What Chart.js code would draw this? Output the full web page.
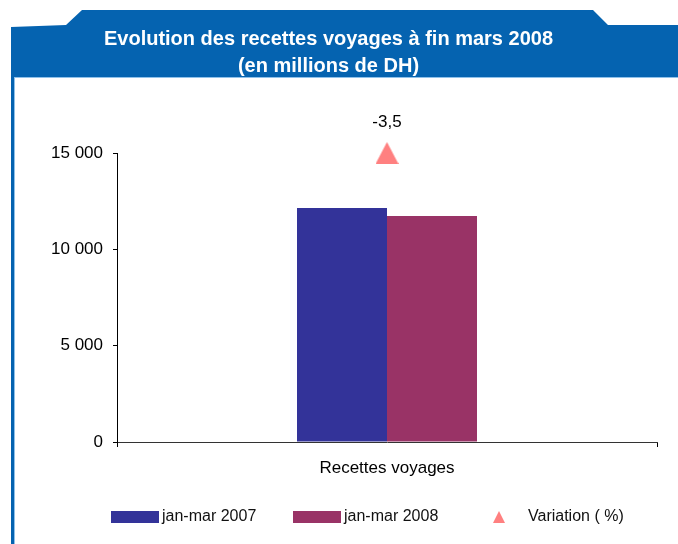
<!DOCTYPE html>
<html>
<head>
<meta charset="utf-8">
<script src="https://cdn.jsdelivr.net/npm/chart.js@4"></script>
<style>
  html, body { margin: 0; padding: 0; background: #fff; }
  canvas { display: block; }
</style>
</head>
<body>
<canvas id="recettesChart" width="678" height="544"></canvas>
<script>
// Data for the chart
const categories = ['Recettes voyages'];
const seriesNames = ['jan-mar 2007', 'jan-mar 2008', 'Variation ( %)'];
const recettes2007 = [12150];
const recettes2008 = [11725];
const variation = [-3.5];
const yTicks = [0, 5000, 10000, 15000];

const BLUE = '#333399';
const PLUM = '#993366';
const PINK = '#ff8080';
const HEADER = '#0563b0';
const FONT = "'Liberation Sans', Arial, sans-serif";

// triangle marker (a bit taller than an equilateral one, like the original)
function makeTriangle(w, h) {
    const c = document.createElement('canvas');
    c.width = w; c.height = h;
    const g = c.getContext('2d');
    g.fillStyle = PINK;
    g.beginPath();
    g.moveTo(w / 2, 0);
    g.lineTo(w, h);
    g.lineTo(0, h);
    g.closePath();
    g.fill();
    return c;
}
const bigTriangle = makeTriangle(23, 22);
const smallTriangle = makeTriangle(12, 12);

function fmt(v) {
    return String(v).replace(/\B(?=(\d{3})+(?!\d))/g, ' ');
}

// blue header band + left border
const framePlugin = {
    id: 'frame',
    beforeDraw(chart) {
        const ctx = chart.ctx;
        ctx.save();
        ctx.fillStyle = '#fff';
        ctx.fillRect(0, 0, chart.width, chart.height);
        ctx.fillStyle = HEADER;
        ctx.beginPath();
        ctx.moveTo(11, 77);
        ctx.lineTo(11, 27);
        ctx.lineTo(66, 25);
        ctx.lineTo(82, 10);
        ctx.lineTo(593, 10);
        ctx.lineTo(608, 25);
        ctx.lineTo(678, 25);
        ctx.lineTo(678, 77);
        ctx.closePath();
        ctx.fill();
        ctx.fillRect(11, 77, 3, chart.height - 77);
        ctx.fillStyle = '#8fc1ea';
        ctx.fillRect(14, 78, 1, chart.height - 78);
        ctx.fillRect(14, 77, chart.width - 14, 1);
        ctx.restore();
    }
};

// value label above the triangle + custom legend
const extrasPlugin = {
    id: 'extras',
    afterDatasetsDraw(chart) {
        const ctx = chart.ctx;
        ctx.save();
        const meta = chart.getDatasetMeta(2);
        ctx.fillStyle = '#000';
        ctx.font = '17px ' + FONT;
        ctx.textAlign = 'center';
        ctx.textBaseline = 'middle';
        meta.data.forEach((pt, i) => {
            const v = chart.data.datasets[2].data[i];
            ctx.fillText(String(v).replace('.', ','), pt.x, pt.y - 31);
        });
        ctx.restore();
    },
    afterDraw(chart) {
        const ctx = chart.ctx;
        const ds = chart.data.datasets;
        const y = 517;
        ctx.save();
        ctx.font = '16px ' + FONT;
        ctx.textBaseline = 'middle';
        ctx.textAlign = 'left';
        // bar items
        const boxX = [111, 293];
        [0, 1].forEach(i => {
            ctx.fillStyle = ds[i].backgroundColor;
            ctx.fillRect(boxX[i], y - 6, 48, 12);
            ctx.fillStyle = '#111';
            ctx.fillText(ds[i].label, boxX[i] + 51, y);
        });
        // triangle item
        ctx.drawImage(smallTriangle, 493, y - 6);
        ctx.fillStyle = '#111';
        ctx.fillText(ds[2].label, 528, y);
        ctx.restore();
    }
};

const ctx = document.getElementById('recettesChart').getContext('2d');
const recettesChart = new Chart(ctx, {
    type: 'bar',
    data: {
        labels: categories,
        datasets: [{
            label: seriesNames[0],
            data: recettes2007,
            backgroundColor: BLUE,
            yAxisID: 'y',
            order: 2
        }, {
            label: seriesNames[1],
            data: recettes2008,
            backgroundColor: PLUM,
            yAxisID: 'y',
            order: 2
        }, {
            type: 'line',
            label: seriesNames[2],
            data: variation,
            yAxisID: 'y2',
            showLine: false,
            pointStyle: bigTriangle,
            pointRadius: 12,
            backgroundColor: PINK,
            borderColor: PINK,
            clip: false,
            order: 0
        }]
    },
    options: {
        responsive: false,
        devicePixelRatio: 1,
        animation: false,
        categoryPercentage: 1 / 3,
        barPercentage: 1,
        layout: {
            padding: { top: 0, left: 0, right: 21, bottom: 0 }
        },
        plugins: {
            legend: { display: false },
            tooltip: { enabled: false },
            title: {
                display: true,
                text: ['Evolution des recettes voyages à fin mars 2008', '(en millions de DH)'],
                color: '#fff',
                font: { family: FONT, size: 20, weight: 'bold', lineHeight: 1.35 },
                padding: { top: 26, bottom: 73 }
            }
        },
        scales: {
            x: {
                grid: { drawOnChartArea: false, tickLength: 5, color: '#000' },
                border: { color: '#333' },
                ticks: {
                    color: '#000',
                    padding: 11,
                    font: { family: FONT, size: 17 }
                },
                afterFit(scale) { scale.height = 102; }
            },
            y: {
                min: 0,
                max: 15000,
                afterBuildTicks(scale) {
                    scale.ticks = yTicks.map(v => ({ value: v }));
                },
                grid: { drawOnChartArea: false, tickLength: 4, color: '#000' },
                border: { color: '#000' },
                ticks: {
                    color: '#000',
                    padding: 10,
                    font: { family: FONT, size: 17 },
                    callback: v => fmt(v)
                },
                afterFit(scale) { scale.width = 117; }
            },
            y2: {
                display: false,
                position: 'right',
                min: -4,
                max: -3.5
            }
        }
    },
    plugins: [framePlugin, extrasPlugin]
});
</script>
</body>
</html>
